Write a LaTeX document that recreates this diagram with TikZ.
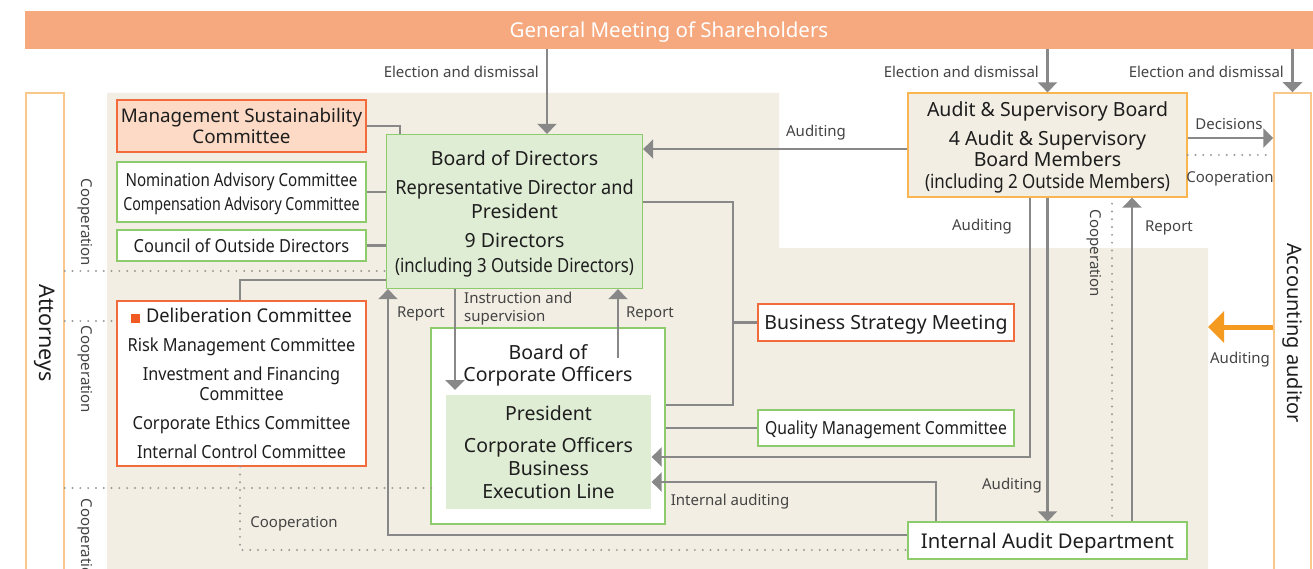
\documentclass[tikz,border=0pt]{standalone}
\usepackage{fontspec}
\usepackage{graphicx}
\setmainfont{Noto Sans}
\usetikzlibrary{arrows.meta,calc}

\definecolor{barfill}{HTML}{F6A87E}
\definecolor{beige}{HTML}{F2EEE3}
\definecolor{grfill}{HTML}{E0EDD5}
\definecolor{grline}{HTML}{8DCB6C}
\definecolor{redline}{HTML}{F26B3C}
\definecolor{redfill}{HTML}{FCDAC5}
\definecolor{ltorange}{HTML}{F9C88A}
\definecolor{asbline}{HTML}{F8B550}
\definecolor{connc}{HTML}{888888}
\definecolor{dotc}{HTML}{9A9A9A}
\definecolor{labc}{HTML}{444444}
\definecolor{txt}{HTML}{1E1E1E}
\definecolor{audarrow}{HTML}{F49A1F}
\definecolor{markc}{HTML}{F05A22}

\newcommand{\fsz}[2]{\fontsize{#1}{#2}\selectfont}
% horizontally narrowed text
\newcommand{\hs}[2]{\scalebox{#1}[1]{#2}}

\begin{document}
\begin{tikzpicture}[x=1pt,y=-1pt,
  box/.style={draw, line width=1.3pt, inner sep=0pt, align=center, text=txt,
    text depth=0pt, font=\fsz{19.5}{24.5}},
  greenbox/.style={box, draw=grline, fill=white},
  redbox/.style={box, draw=redline, fill=white},
  sidebox/.style={draw=ltorange, line width=1.5pt, fill=white, inner sep=0pt},
  sidetext/.style={rotate=-90, font=\fsz{21.5}{24}, text=txt, inner sep=0pt},
  lab/.style={font=\fsz{15}{18}, text=labc, inner sep=0pt, yshift=-1.5pt},
  conn/.style={draw=connc, line width=2.8pt},
  arr/.style={conn, -{Triangle[width=19pt,length=10pt]}},
  orarr/.style={draw=audarrow, line width=5pt, -{Triangle[width=31pt,length=16pt]}},
  dots/.style={draw=dotc, line width=2.2pt, line cap=round, dash pattern=on 0pt off 7.8pt}
]
\useasboundingbox (0,0) rectangle (1313,569);
\fill[white] (0,0) rectangle (1313,569);

% company area
\fill[beige] (107,93) -- (779,93) -- (779,248) -- (1208,248) -- (1208,575) -- (107,575) -- cycle;

% shareholders
\node[fill=barfill, minimum width=1288, minimum height=38, inner sep=0pt, text depth=0pt,
  text=white, font=\fsz{20.5}{24}] (gm) at (669,30) {General Meeting of Shareholders};

% outside parties
\node[sidebox, minimum width=38, minimum height=482] (att) at (45,334) {};
\node[sidetext] (attlbl) at (45,333) {Attorneys};
\node[sidebox, minimum width=37, minimum height=482] (aa) at (1292.5,334) {};
\node[sidetext, font=\fsz{20}{24}] (aalbl) at (1293,333) {Accounting auditor};

% committees
\node[box, draw=redline, fill=redfill, minimum width=249, minimum height=52,
  font=\fsz{18.8}{20.5}] (msc) at (241.5,126) {Management Sustainability\\Committee};
\node[greenbox, minimum width=249, minimum height=60, font=\fsz{18}{24}]
  (nac) at (241.5,192) {\hs{0.84}{Nomination Advisory Committee}\\\hs{0.79}{Compensation Advisory Committee}};
\node[greenbox, minimum width=249, minimum height=31, font=\fsz{18}{24}]
  (cod) at (241.5,245.5) {\hs{0.91}{Council of Outside Directors}};
\node[redbox, minimum width=249, minimum height=165, font=\fsz{18}{20}]
  (delib) at (241.5,383.5)
  {{\fsz{19}{20}\textcolor{markc}{\rule{9pt}{9pt}}\hspace{6pt}\hs{0.962}{Deliberation Committee}}\\[9pt]
   \hs{0.908}{Risk Management Committee}\\[9pt]
   \hs{0.898}{Investment and Financing}\\\hs{0.898}{Committee}\\[9pt]
   \hs{0.914}{Corporate Ethics Committee}\\[9pt]
   \hs{0.897}{Internal Control Committee}};

% board of directors
\node[box, draw=grline, fill=grfill, minimum width=256, minimum height=154]
  (bod) at (514.5,211.5)
  {Board of Directors\\[4.5pt]
   \hs{0.93}{Representative Director and}\\President\\[4.5pt]
   9 Directors\\\hs{0.86}{(including 3 Outside Directors)}};

% audit and supervisory board
\node[box, draw=asbline, fill=beige, minimum width=279, minimum height=104,
  font=\fsz{19.5}{21.5}] (asb) at (1047.5,145)
  {Audit \& Supervisory Board\\[7.5pt]
   4 Audit \& Supervisory\\Board Members\\\hs{0.87}{(including 2 Outside Members)}};

% corporate officers
\node[greenbox, minimum width=234, minimum height=196] (bco) at (548,426) {};
\node[align=center, text=txt, font=\fsz{19.5}{22}, inner sep=0pt]
  (bcolbl) at (548,365) {Board of\\Corporate Officers};
\node[box, draw=none, fill=grfill, minimum width=205, minimum height=114,
  font=\fsz{19.5}{23}] (pres) at (548.5,452)
  {President\\[9pt]Corporate Officers\\Business\\Execution Line};

\node[redbox, minimum width=256, minimum height=37] (bsm) at (886,322.5) {Business Strategy Meeting};
\node[greenbox, minimum width=256, minimum height=36, font=\fsz{18}{22}]
  (qmc) at (886,428) {\hs{0.873}{Quality Management Committee}};
\node[greenbox, minimum width=279, minimum height=37, font=\fsz{20.3}{24}]
  (iad) at (1047.5,540.5) {Internal Audit Department};

% turning points of connectors
\coordinate (xEl) at (547,0);
\coordinate (yAud) at (0,149);
\coordinate (yDec) at (0,138);
\coordinate (yCoA) at (0,155);
\coordinate (pAud) at (1030,457);
\coordinate (xCoB) at (1112,0);
\coordinate (xRpB) at (1132,0);
\coordinate (pInt) at (936,482);
\coordinate (pRep) at (388,535);
\coordinate (pCoC) at (240,550);
\coordinate (yA1) at (0,271);
\coordinate (yA2) at (0,321);
\coordinate (yA3) at (0,488);
\coordinate (pMsc) at (400,126);
\coordinate (pDel) at (240,280);
\coordinate (pIns) at (455,390);
\coordinate (pRpC) at (618,358);
\coordinate (pBs1) at (733,202);
\coordinate (pBs2) at (733,405);
\coordinate (orTip) at (1208,327);

% election and dismissal
\draw[arr] (xEl |- gm.south) -- (xEl |- bod.north);
\draw[arr] (asb.north |- gm.south) -- (asb.north);
\draw[arr] (aa.north |- gm.south) -- (aa.north);

% audit & supervisory board relations
\draw[arr] (asb.west |- yAud) -- (bod.east |- yAud);
\draw[arr] (asb.east |- yDec) -- (aa.west |- yDec);
\draw[dots] (asb.east |- yCoA) -- (aa.west |- yCoA);
\draw[arr] (asb.south -| pAud) -- (pAud) -- (pres.east |- pAud);
\draw[arr] (asb.south) -- (iad.north);
\draw[dots, shorten <=6pt, shorten >=5pt] (xCoB |- asb.south) -- (xCoB |- iad.north);
\draw[arr] (xRpB |- iad.north) -- (xRpB |- asb.south);

% internal audit department
\draw[arr] (iad.north -| pInt) -- (pInt) -- (pres.east |- pInt);
\draw[arr] (iad.west |- pRep) -- (pRep) -- (pRep |- bod.south);
\draw[dots] (delib.south -| pCoC) -- (pCoC) -- (iad.west |- pCoC);

% attorneys
\draw[dots] (att.east |- yA1) -- (bod.west |- yA1);
\draw[dots] (att.east |- yA2) -- (delib.west |- yA2);
\draw[dots, shorten >=8pt] (att.east |- yA3) -- (pres.west |- yA3);

% committees to the board
\draw[conn] (msc.east |- pMsc) -- (pMsc) -- (pMsc |- bod.north);
\draw[conn] (nac.east) -- (bod.west |- nac.east);
\draw[conn] (cod.east) -- (bod.west |- cod.east);
\draw[conn] (delib.north -| pDel) -- (pDel) -- (bod.west |- pDel);

% board and corporate officers
\draw[arr] (pIns |- bod.south) -- (pIns);
\draw[arr] (pRpC) -- (pRpC |- bod.south);
\draw[conn] (bod.east |- pBs1) -- (pBs1) -- (pBs2) -- (bco.east |- pBs2);
\draw[conn] (pBs1 |- bsm.west) -- (bsm.west);
\draw[conn] (bco.east |- qmc.west) -- (qmc.west);

% accounting auditor
\draw[orarr] (aa.west |- orTip) -- (orTip);

% labels
\node[lab, anchor=east] (l1) at (539,70) {Election and dismissal};
\node[lab, anchor=east] (l2) at (1039,70) {Election and dismissal};
\node[lab, anchor=east] (l3) at (1284,70) {Election and dismissal};
\node[lab] (l4) at (816,131) {Auditing};
\node[lab] (l5) at (1229,123) {Decisions};
\node[lab] (l6) at (1230,177) {Cooperation};
\node[lab] (l7) at (982,225) {Auditing};
\node[lab, rotate=-90, yshift=1.5pt] (l8) at (1093,252) {Cooperation};
\node[lab] (l9) at (1169,226) {Report};
\node[lab] (l10) at (1240,358) {Auditing};
\node[lab] (l11) at (1012,484) {Auditing};
\node[lab] (l12) at (730,500) {Internal auditing};
\node[lab] (l13) at (650,312) {Report};
\node[lab] (l14) at (421,312) {Report};
\node[lab, anchor=north west, align=left, yshift=1.5pt] (l15) at (464,292) {Instruction and\\supervision};
\node[lab] (l16) at (294,522) {Cooperation};
\node[lab, rotate=-90, yshift=1.5pt] (l17) at (84,221) {Cooperation};
\node[lab, rotate=-90, yshift=1.5pt] (l18) at (84,368) {Cooperation};
\node[lab, rotate=-90, anchor=west, yshift=1.5pt] (l19) at (84,497) {Cooperation};
\end{tikzpicture}
\end{document}
